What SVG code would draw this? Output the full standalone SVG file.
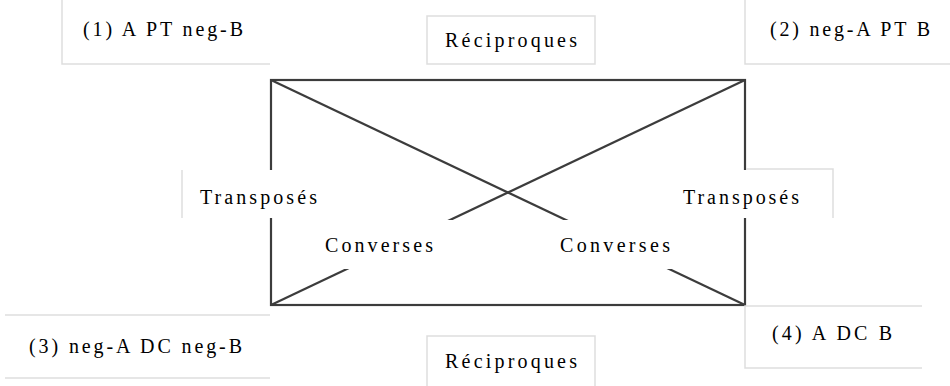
<svg xmlns="http://www.w3.org/2000/svg" width="950" height="386" viewBox="0 0 950 386">
<style>
.t{font-family:"Liberation Serif","Times New Roman",serif;font-size:20px;fill:#000}
.bd{stroke:#dedede;stroke-width:1.5;fill:none}
.ln{stroke:#3c3c3c;stroke-width:2.2;fill:none}
.bg{fill:#fff;stroke:none}
</style>
<rect width="950" height="386" fill="#fff"/>
<g id="connectors">
<rect class="ln" x="271" y="80" width="474" height="225" stroke-width="2.6"/>
<line class="ln" x1="271" y1="80" x2="745" y2="305"/>
<line class="ln" x1="745" y1="80" x2="271" y2="305"/>
</g>
<g id="n1">
<path class="bd" d="M62 0 V64 H270"/>
<text class="t" x="83" y="36" textLength="160" lengthAdjust="spacing">(1) A PT neg-B</text>
</g>
<g id="recip-top">
<rect class="bd" x="427" y="16" width="168" height="48"/>
<text class="t" x="445" y="47" textLength="132" lengthAdjust="spacing">Réciproques</text>
</g>
<g id="n2">
<path class="bd" d="M745 0 V64 H950"/>
<text class="t" x="770" y="36" textLength="160" lengthAdjust="spacing">(2) neg-A PT B</text>
</g>
<g id="trans-left">
<rect class="bg" x="183" y="170" width="140" height="48"/>
<path class="bd" d="M182 170 V218"/>
<text class="t" x="200" y="204" textLength="117" lengthAdjust="spacing">Transposés</text>
</g>
<g id="trans-right">
<rect class="bg" x="676" y="170" width="156" height="48"/>
<path class="bd" d="M746 169 H833 V218"/>
<text class="t" x="683" y="204" textLength="116" lengthAdjust="spacing">Transposés</text>
</g>
<g id="conv-left">
<rect class="bg" x="312" y="220" width="144" height="49"/>
<text class="t" x="325" y="252" textLength="108" lengthAdjust="spacing">Converses</text>
</g>
<g id="conv-right">
<rect class="bg" x="558" y="220" width="120" height="49"/>
<text class="t" x="560" y="252" textLength="110" lengthAdjust="spacing">Converses</text>
</g>
<g id="n3">
<path class="bd" d="M5 315 H270 M5 378 H270"/>
<text class="t" x="29" y="353" textLength="213" lengthAdjust="spacing">(3) neg-A DC neg-B</text>
</g>
<g id="recip-bottom">
<path class="bd" d="M427 386 V336 H595 V386"/>
<text class="t" x="445" y="368" textLength="132" lengthAdjust="spacing">Réciproques</text>
</g>
<g id="n4">
<path class="bd" d="M922 306 H745 V368 H922"/>
<text class="t" x="772" y="340" textLength="120" lengthAdjust="spacing">(4) A DC B</text>
</g>
</svg>
